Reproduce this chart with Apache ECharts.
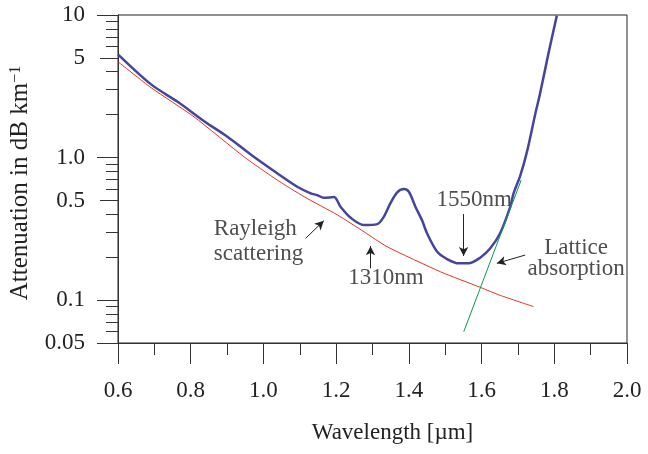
<!DOCTYPE html>
<html>
<head>
<meta charset="utf-8">
<script src="https://cdn.jsdelivr.net/npm/echarts@6/dist/echarts.min.js"></script>
<style>
    html, body { margin: 0; padding: 0; background: #fff; }
    #chart { width: 648px; height: 454px; }
</style>
</head>
<body>
<div id="chart"></div>
<script>
    // total attenuation (blue), Rayleigh scattering (red), lattice absorption (green)
    const totalLoss = [
        [0.600, 5.30], [0.691, 3.26], [0.764, 2.46], [0.837, 1.80], [0.901, 1.40],
        [0.965, 1.05], [1.038, 0.775], [1.093, 0.624], [1.130, 0.561], [1.148, 0.545],
        [1.166, 0.522], [1.194, 0.528], [1.212, 0.452], [1.240, 0.378], [1.276, 0.336],
        [1.313, 0.341], [1.331, 0.384], [1.349, 0.477], [1.368, 0.570], [1.386, 0.601],
        [1.400, 0.575], [1.418, 0.452], [1.436, 0.364], [1.450, 0.294], [1.478, 0.218],
        [1.505, 0.194], [1.537, 0.181], [1.564, 0.181], [1.597, 0.199], [1.624, 0.231],
        [1.651, 0.294], [1.679, 0.452], [1.688, 0.561], [1.706, 0.740], [1.725, 1.10],
        [1.748, 2.04], [1.761, 2.82], [1.784, 5.38], [1.807, 9.9]
    ];
    const rayleigh = [
        [0.600, 4.70], [0.691, 3.09], [0.809, 1.93], [0.947, 1.01], [1.038, 0.695],
        [1.112, 0.531], [1.204, 0.395], [1.277, 0.301], [1.340, 0.237], [1.487, 0.158],
        [1.596, 0.123], [1.651, 0.108], [1.743, 0.090]
    ];
    const lattice = [[1.551, 0.060], [1.709, 0.695]];

    // tick values of the log axis
    const yLabelValues = [0.05, 0.1, 0.5, 1, 5, 10];
    const yLabelText = ['0.05', '0.1', '0.5', '1.0', '5', '10'];
    const yMajorTicks = [0.05, 0.1, 1, 10];
    const yHalfTicks = [0.5, 5];
    const yMinorTicks = [0.06, 0.07, 0.08, 0.09, 0.2, 0.3, 0.4, 0.6, 0.7, 0.8, 0.9, 2, 3, 4, 6, 7, 8, 9];

    // annotations: text, anchor, arrow start, arrow end
    const annoText = ['Rayleigh\nscattering', '1310nm', '1550nm', 'Lattice\nabsorption'];
    const annoPos = [[0.8635, 0.259], [1.337, 0.1439], [1.58, 0.503], [1.86, 0.197]];
    const annoAlign = ['left', 'center', 'center', 'center'];
    const annoLineHeight = [25, 23, 23, 21];
    const arrowFrom = [[1.116, 0.271], [1.2945, 0.167], [1.5506, 0.401], [1.720, 0.207]];
    const arrowTo = [[1.166, 0.360], [1.2945, 0.239], [1.5506, 0.204], [1.642, 0.181]];

    const FONT = '"Liberation Serif", "DejaVu Serif", serif';
    const AXIS_COLOR = '#333';

    function logAxis(ticks, len, extra) {
        return Object.assign({
            type: 'log',
            min: 0.05,
            max: 10,
            position: 'left',
            splitLine: {show: false},
            axisLine: {show: true, lineStyle: {color: AXIS_COLOR, width: 1}},
            axisTick: {show: true, customValues: ticks, length: len, lineStyle: {color: AXIS_COLOR, width: 1}},
            axisLabel: {show: false}
        }, extra || {});
    }

    const chart = echarts.init(document.getElementById('chart'));

    chart.setOption({
        animation: false,
        backgroundColor: '#fff',
        grid: {
            left: 117, top: 15, right: 21, bottom: 111,
            show: true, borderColor: '#222', borderWidth: 1, backgroundColor: 'transparent'
        },
        xAxis: {
            type: 'value',
            min: 0.6,
            max: 2.0,
            interval: 0.2,
            name: 'Wavelength [µm]',
            nameLocation: 'middle',
            nameGap: 78,
            nameTextStyle: {fontFamily: FONT, fontSize: 23, color: '#222', padding: [0, 0, 0, 40]},
            splitLine: {show: false},
            axisLine: {lineStyle: {color: AXIS_COLOR, width: 1}},
            axisTick: {length: 21, lineStyle: {color: AXIS_COLOR, width: 1}},
            minorTick: {show: true, splitNumber: 2, length: 12, lineStyle: {color: AXIS_COLOR, width: 1}},
            axisLabel: {
                margin: 36,
                fontFamily: FONT, fontSize: 23, color: '#222',
                formatter: v => v.toFixed(1)
            }
        },
        yAxis: [
            logAxis(yMajorTicks, 21, {
                name: 'Attenuation in dB km{sup|−1}',
                nameLocation: 'middle',
                nameGap: 85,
                nameTextStyle: {
                    fontFamily: FONT, fontSize: 25, color: '#222',
                    padding: [0, 8, 0, 0],
                    rich: {sup: {fontFamily: FONT, fontSize: 16, color: '#222', verticalAlign: 'top', lineHeight: 25}}
                },
                axisLabel: {
                    show: true,
                    customValues: yLabelValues,
                    margin: 33,
                    fontFamily: FONT, fontSize: 23, color: '#222',
                    formatter: function (v) {
                        for (let i = 0; i < yLabelValues.length; i++) {
                            if (Math.abs(Math.log10(v) - Math.log10(yLabelValues[i])) < 1e-6) return yLabelText[i];
                        }
                        return '';
                    }
                }
            }),
            logAxis(yHalfTicks, 18),
            logAxis(yMinorTicks, 12)
        ],
        series: [
            {
                name: 'Rayleigh', type: 'line', data: rayleigh, symbol: 'none',
                smooth: 0.2, lineStyle: {color: '#e8321e', width: 1}, silent: true
            },
            {
                name: 'Total', type: 'line', data: totalLoss, symbol: 'none',
                smooth: 0.3, lineStyle: {color: '#45459e', width: 2.5}, silent: true
            },
            {
                name: 'Lattice', type: 'line', data: lattice, symbol: 'none',
                lineStyle: {color: '#0a9a50', width: 1}, silent: true
            },
            {
                name: 'Notes', type: 'scatter', symbolSize: 0, silent: true,
                data: annoText.map((t, i) => ({
                    value: annoPos[i],
                    label: {
                        show: true, position: 'inside', formatter: t,
                        align: annoAlign[i], verticalAlign: 'middle',
                        lineHeight: annoLineHeight[i],
                        fontFamily: FONT, fontSize: 23, color: '#222'
                    }
                })),
                markLine: {
                    silent: true,
                    symbol: ['none', 'arrow'],
                    symbolSize: [7, 9],
                    label: {show: false},
                    lineStyle: {color: '#222', width: 1, type: 'solid'},
                    data: arrowFrom.map((p, i) => [{coord: p}, {coord: arrowTo[i]}])
                }
            }
        ]
    });
</script>
</body>
</html>
